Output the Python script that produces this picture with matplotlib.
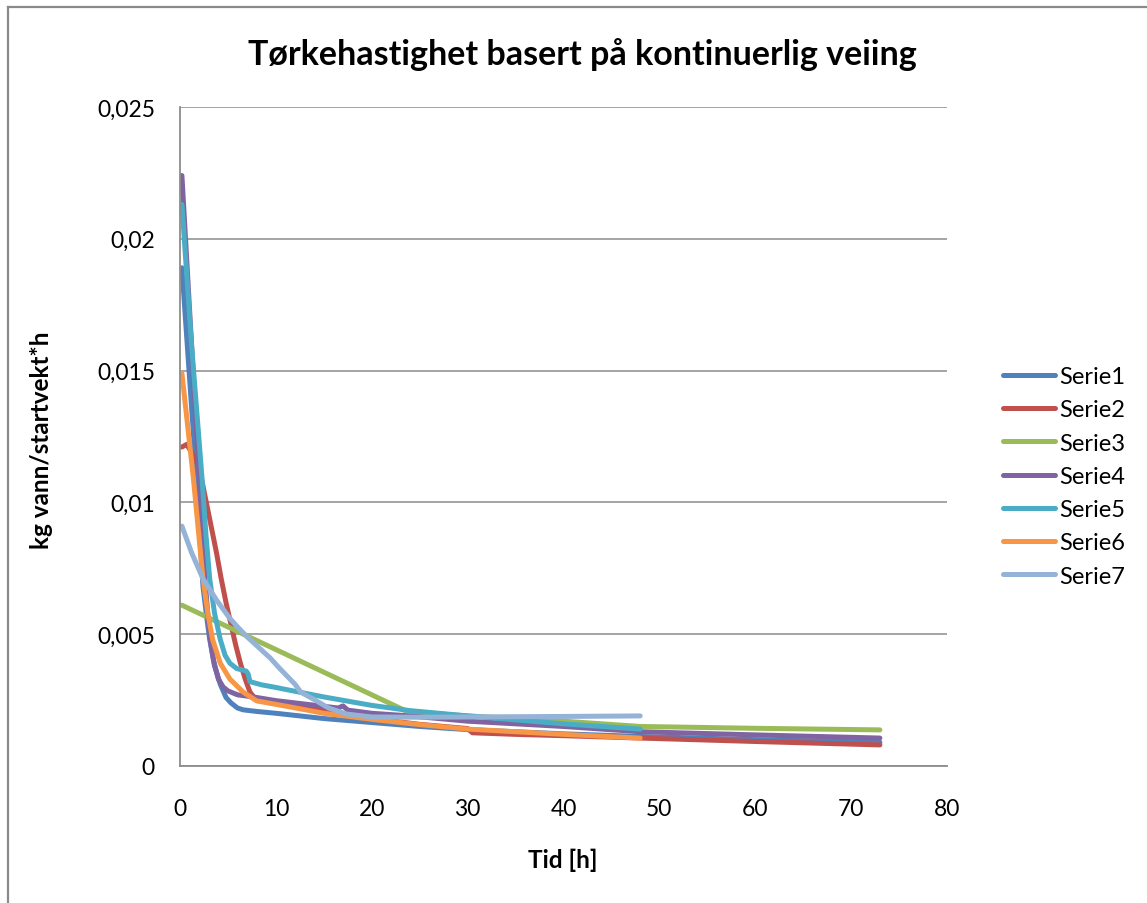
import matplotlib
matplotlib.use("Agg")
import matplotlib.pyplot as plt
from matplotlib.lines import Line2D

plt.rcParams['font.family'] = ['Lato', 'DejaVu Sans']

title = "Tørkehastighet basert på kontinuerlig veiing"
x_label = "Tid [h]"
y_label = "kg vann/startvekt*h"
series_names = ["Serie1", "Serie2", "Serie3", "Serie4", "Serie5", "Serie6", "Serie7"]
series_colors = ["#4F81BD", "#C0504D", "#9BBB59", "#8064A2", "#4BACC6", "#F79646", "#95B3D7"]

x_ticks = [0, 10, 20, 30, 40, 50, 60, 70, 80]
y_ticks = [0, 0.005, 0.01, 0.015, 0.02, 0.025]
y_tick_labels = ["0", "0,005", "0,01", "0,015", "0,02", "0,025"]

# Serie1
t1 = [0.2, 1.8, 2.1, 2.4, 2.8, 3.1, 3.6, 4.2, 4.8, 5.3, 6.0, 6.6, 8.0, 10, 12.5, 15, 20, 25, 30, 40, 48, 60, 73]
v1 = [0.0189, 0.0105, 0.0085, 0.0068, 0.0056, 0.0048, 0.0038, 0.0031, 0.0026, 0.0024, 0.0022, 0.00213,
      0.00207, 0.0020, 0.0019, 0.0018, 0.00165, 0.0015, 0.00138, 0.00122, 0.00112, 0.0010, 0.0009]
# Serie2
t2 = [0.2, 0.7, 1.2, 1.8, 2.3, 2.8, 3.3, 3.8, 4.3, 4.8, 5.3, 5.8, 6.3, 6.8, 7.3, 7.8, 9, 10, 15, 20, 25,
      30, 30.5, 35, 40, 48, 60, 73]
v2 = [0.0121, 0.0122, 0.0119, 0.0115, 0.0108, 0.0099, 0.0090, 0.0081, 0.0071, 0.0062, 0.0054, 0.0046,
      0.0039, 0.0033, 0.0028, 0.00258, 0.0025, 0.00245, 0.0021, 0.0018, 0.00158, 0.00142, 0.00126,
      0.0012, 0.00115, 0.00106, 0.00093, 0.0008]
# Serie3
t3 = [0.2, 23.5, 26, 30, 40, 48, 60, 73]
v3 = [0.0061, 0.0021, 0.0020, 0.0019, 0.0017, 0.0015, 0.00143, 0.00137]
# Serie4
t4 = [0.2, 1.0, 1.9, 2.3, 2.6, 3.1, 3.5, 4.0, 4.5, 5.0, 6.0, 8, 10, 13, 16.5, 17, 17.5, 20, 24, 30, 40,
      48, 60, 73]
v4 = [0.0224, 0.0173, 0.0116, 0.0090, 0.0071, 0.0049, 0.0040, 0.0033, 0.0030, 0.00285, 0.0027, 0.0026,
      0.00248, 0.00235, 0.0022, 0.00228, 0.00212, 0.0020, 0.0019, 0.0017, 0.0015, 0.0013, 0.00118, 0.00106]
# Serie5
t5 = [0.2, 1.2, 2.3, 2.7, 3.1, 3.6, 4.2, 4.7, 5.2, 5.9, 6.9, 7.1, 7.3, 8.5, 10, 11.5, 15, 20, 24, 30, 40, 48]
v5 = [0.0213, 0.0160, 0.0109, 0.0088, 0.0071, 0.0058, 0.0048, 0.0042, 0.0039, 0.0037, 0.0036, 0.0035,
      0.0032, 0.00308, 0.00298, 0.00287, 0.00262, 0.0023, 0.0021, 0.0019, 0.0016, 0.0014]
# Serie6
t6 = [0.2, 1.4, 2.4, 2.9, 3.4, 4.2, 5.2, 6.6, 8.0, 11.5, 15, 20, 25, 30, 40, 48]
v6 = [0.0149, 0.0109, 0.0071, 0.0058, 0.0048, 0.0039, 0.0033, 0.0028, 0.00247, 0.00224, 0.0020,
      0.00177, 0.00157, 0.0014, 0.0012, 0.00106]
# Serie7
t7 = [0.2, 1.2, 2.4, 3.8, 5.2, 6.2, 7.0, 8.2, 9.4, 10.4, 12.0, 12.6, 13.9, 15.5, 17.4, 20, 25, 30, 40, 48]
v7 = [0.0091, 0.0081, 0.0071, 0.0063, 0.0056, 0.0052, 0.0049, 0.0045, 0.0041, 0.0037, 0.0031, 0.0028,
      0.00254, 0.0022, 0.00197, 0.00186, 0.00185, 0.00186, 0.00188, 0.0019]

times = [t1, t2, t3, t4, t5, t6, t7]
values = [v1, v2, v3, v4, v5, v6, v7]

W, H = 1147, 904
fig = plt.figure(figsize=(W / 100, H / 100), dpi=100)
fig.patch.set_facecolor("white")

# outer chart frame (left and top edges)
frame_col = "#8A8A8A"
fig.add_artist(Line2D([8 / W, 8 / W], [0, 1 - 8 / H], color=frame_col, lw=1.6, transform=fig.transFigure))
fig.add_artist(Line2D([8 / W, 1], [1 - 8 / H, 1 - 8 / H], color=frame_col, lw=1.6, transform=fig.transFigure))

ax = fig.add_axes([180 / W, 1 - 767 / H, (947 - 180) / W, (767 - 108) / H])
for t, v, c, n in zip(times, values, series_colors, series_names):
    ax.plot(t, v, color=c, lw=3.6, label=n, solid_joinstyle="round", solid_capstyle="round")

ax.set_xlim(0, 80)
ax.set_ylim(0, 0.025)
ax.set_xticks(x_ticks)
ax.set_xticklabels([str(x) for x in x_ticks])
ax.set_yticks(y_ticks)
ax.set_yticklabels(y_tick_labels)
ax.tick_params(length=0, labelsize=16.5, colors="#000000")
ax.tick_params(axis="x", pad=23)
ax.tick_params(axis="y", pad=18)
ax.grid(axis="y", color="#8C8C8C", lw=1.1)
ax.set_axisbelow(True)
for s in ["top", "right"]:
    ax.spines[s].set_visible(False)
for s in ["left", "bottom"]:
    ax.spines[s].set_color("#8C8C8C")
    ax.spines[s].set_linewidth(1.3)

fig.text(582 / W, 1 - 55 / H, title, ha="center", va="center", fontsize=24.5, fontweight="bold")
fig.text(563 / W, 1 - 860 / H, x_label, ha="center", va="center", fontsize=17.5, fontweight="bold")
fig.text(42 / W, 1 - 440 / H, y_label, ha="center", va="center", fontsize=17.5, fontweight="bold",
         rotation=90)

leg = fig.legend(loc="upper left", bbox_to_anchor=(1003 / W, 1 - 367 / H), frameon=False,
                 fontsize=17, handlelength=2.2, handletextpad=0.2, labelspacing=0.52,
                 borderaxespad=0, borderpad=0)
for line in leg.get_lines():
    line.set_linewidth(3.6)

fig.savefig("out.png", dpi=100)
